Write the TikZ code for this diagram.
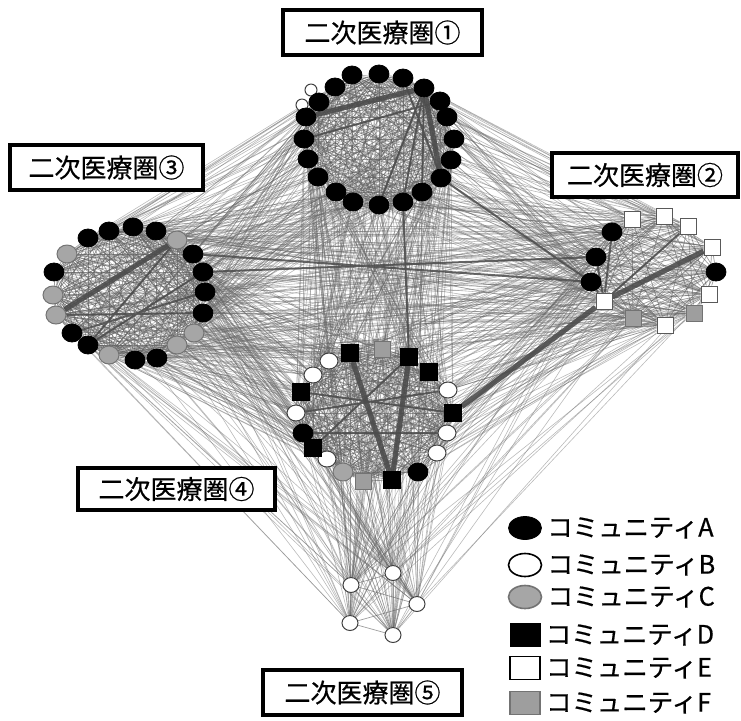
\documentclass[tikz,border=0pt]{standalone}
\usepackage{fontspec}
\setmainfont{Noto Sans CJK JP}[FakeBold=0.6]
\usetikzlibrary{shapes.geometric,positioning,backgrounds}
\tikzset{
	ndA/.style={ellipse,draw=black,fill=black,minimum width=10pt,minimum height=9pt,inner sep=0pt},
	ndB/.style={ellipse,draw=black!75,fill=white,line width=0.5pt,minimum width=9pt,minimum height=8pt,inner sep=0pt},
	ndC/.style={ellipse,draw=black!55,fill=black!35,line width=0.5pt,minimum width=10pt,minimum height=9pt,inner sep=0pt},
	ndD/.style={rectangle,draw=black,fill=black,minimum size=8.5pt,inner sep=0pt},
	ndE/.style={rectangle,draw=black!65,fill=white,line width=0.5pt,minimum size=8pt,inner sep=0pt},
	ndF/.style={rectangle,draw=black!55,fill=black!38,line width=0.5pt,minimum size=8pt,inner sep=0pt},
	lnk/.style={draw=black!60,line width=0.3pt,opacity=0.45},
	inlnk/.style={draw=black!70,line width=0.35pt,opacity=0.55},
	mid/.style={draw=black!70,line width=1pt,opacity=0.85},
	thk/.style={draw=black!70,line width=2.6pt,opacity=0.9},
	area/.style={draw,line width=1.6pt,fill=white,inner sep=0pt,font=\fontsize{13}{15}\selectfont},
	lgtxt/.style={inner sep=0pt,font=\fontsize{12.7}{14}\selectfont}
}
\begin{document}
\begin{tikzpicture}[x=0.5pt,y=-0.5pt]
	\useasboundingbox (0,0) rectangle (741,720);
	% areas
	\node[area,minimum width=99.5pt,minimum height=22.5pt] (k1) at (382.5,32.5) {二次医療圏①};
	\node[area,minimum width=93pt,minimum height=22pt] (k2) at (645,175) {二次医療圏②};
	\node[area,minimum width=96.5pt,minimum height=22.5pt] (k3) at (106.5,167.5) {二次医療圏③};
	\node[area,minimum width=98.5pt,minimum height=21pt] (k4) at (176.5,489) {二次医療圏④};
	\node[area,minimum width=99.5pt,minimum height=22.5pt] (k5) at (362.5,692.5) {二次医療圏⑤};
	% nodes
	\node[ndB,minimum width=6pt,minimum height=6pt] (w1) at (311,90) {};
	\node[ndB,minimum width=6pt,minimum height=6pt] (w2) at (302,105) {};
	\foreach \x/\y [count=\i] in {352/75,379/74,403/78,424/88,440/101,447/117,454/139,451/160,441/178,422/192,403/202,379/205,353/202,336/192,318/177,308/159,304/139,306/117,319/102,335/87}
		\node[ndA] (p\i) at (\x,\y) {};
	\foreach \x/\y/\k [count=\i] in {88/238/ndA,109/231/ndA,133/227/ndA,156/231/ndA,177/240/ndC,193/254/ndA,203/272/ndA,205/292/ndA,203/313/ndA,194/333/ndC,177/345/ndC,157/358/ndA,135/360/ndA,109/355/ndC,88/345/ndA,72/333/ndA,56/315/ndC,53/295/ndC,54/272/ndA,67/254/ndC}
		\node[style=\k] (q\i) at (\x,\y) {};
	\foreach \x/\y/\k [count=\i] in {632/219/ndE,664/216/ndE,688/226/ndE,712/247/ndE,716/272/ndA,709/294/ndE,694/313/ndF,665/325/ndE,633/318/ndF,604/301/ndE,591/282/ndA,596/257/ndA,612/232/ndA}
		\node[style=\k] (r\i) at (\x,\y) {};
	\foreach \x/\y/\k [count=\i] in {350/353/ndD,382/349/ndF,409/357/ndD,429/372/ndD,448/390/ndB,453/413/ndD,447/433/ndB,437/453/ndB,418/472/ndA,392/480/ndD,363/481/ndF,343/472/ndC,327/459/ndB,313/448/ndD,303/433/ndA,296/413/ndB,301/392/ndD,313/375/ndB,329/361/ndB}
		\node[style=\k] (s\i) at (\x,\y) {};
	\foreach \x/\y [count=\i] in {393/573,351/585,417/604,350/623,393/635}
		\node[ndB,minimum width=8pt,minimum height=7.5pt] (t\i) at (\x,\y) {};
	% links
	\pgfmathsetseed{11}
	\begin{pgfonlayer}{background}
		\foreach \u/\m/\pr in {p/20/90,q/20/90,r/13/75,s/19/90,t/5/100}
			\foreach \i in {1,...,\m}
				\foreach \j in {1,...,\m}{
					\pgfmathtruncatemacro\ok{100*rnd}
					\ifnum\i<\j \ifnum\ok<\pr \draw[inlnk] (\u\i) -- (\u\j); \fi\fi
				}
		\foreach \u/\m/\v/\n/\pr in {p/20/q/20/40,p/20/r/13/38,p/20/s/19/38,q/20/r/13/40,q/20/s/19/38,s/19/r/13/38,t/5/p/20/40,t/5/q/20/40,t/5/r/13/40,t/5/s/19/65}
			\foreach \i in {1,...,\m}
				\foreach \j in {1,...,\n}{
					\pgfmathtruncatemacro\ok{100*rnd}
					\ifnum\ok<\pr \draw[lnk] (\u\i) -- (\v\j); \fi
				}
		\draw[thk] (p4) -- (p18);
		\draw[thk] (p4) -- (p9);
		\draw[mid] (p4) -- (p10) (p4) -- (p11) (p4) -- (p12) (p3) -- (p9) (p5) -- (p17);
		\draw[thk] (q5) -- (q17);
		\draw[mid] (q16) -- (q8) (q17) -- (q9) (q15) -- (q7) (q5) -- (q15);
		\draw[thk] (r4) -- (r10);
		\draw[mid] (r13) -- (r10) (r12) -- (r10) (r11) -- (r10) (r3) -- (r10);
		\draw[thk] (s1) -- (s10);
		\draw[thk] (s3) -- (s10);
		\draw[mid] (s17) -- (s6) (s14) -- (s3) (s15) -- (s7) (s16) -- (s5);
		\draw[thk] (s6) -- (r10);
		\draw[mid] (q6) -- (r11) (q7) -- (r12) (p9) -- (r11) (p11) -- (s3);
	\end{pgfonlayer}
	% legend
	\node[ndA,minimum width=16.5pt,minimum height=11.5pt] (lgA) at (525,528) {};
	\node[ndB,line width=0.8pt,draw=black,minimum width=16.5pt,minimum height=11.5pt] (lgB) at (525,565) {};
	\node[ndC,line width=0.8pt,minimum width=16.5pt,minimum height=11.5pt] (lgC) at (525,597) {};
	\node[ndD,minimum width=15pt,minimum height=11.5pt] (lgD) at (525,635) {};
	\node[ndE,line width=0.8pt,draw=black,minimum width=15pt,minimum height=11.5pt] (lgE) at (525,668) {};
	\node[ndF,line width=0.8pt,minimum width=15pt,minimum height=11.5pt] (lgF) at (525,703) {};
	\foreach \c in {A,B,C,D,E,F}
		\node[lgtxt,right=2.5pt of lg\c] (lb\c) {コミュニティ\c};
\end{tikzpicture}
\end{document}
